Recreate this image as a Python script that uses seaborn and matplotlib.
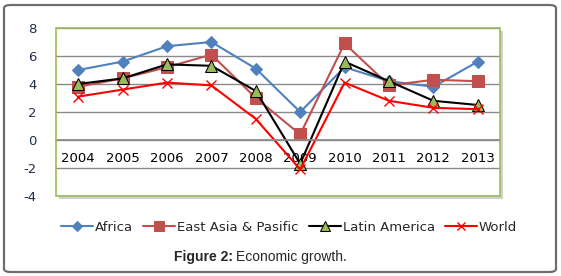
import matplotlib
matplotlib.use("Agg")
import matplotlib.pyplot as plt
import seaborn as sns
import pandas as pd
from matplotlib.patches import Rectangle, FancyBboxPatch

years = ["2004", "2005", "2006", "2007", "2008", "2009", "2010", "2011", "2012", "2013"]
africa = [5.0, 5.6, 6.7, 7.0, 5.1, 2.0, 5.2, 4.2, 3.8, 5.6]
east_asia = [3.8, 4.4, 5.2, 6.1, 3.0, 0.4, 6.9, 3.9, 4.3, 4.2]
latin_america = [4.0, 4.4, 5.4, 5.3, 3.5, -1.7, 5.6, 4.2, 2.8, 2.5]
world = [3.1, 3.6, 4.1, 3.9, 1.5, -2.1, 4.1, 2.8, 2.3, 2.2]
series_names = ["Africa", "East Asia & Pasific", "Latin America", "World"]

sns.set_theme(style="white")
plt.rcParams['font.family'] = ['DejaVu Sans']

fig = plt.figure(figsize=(5.61, 2.76), dpi=100)
ax = fig.add_axes([56/561, 1-196/276, 444/561, 168/276])

# outer rounded frame
fig.patches.append(FancyBboxPatch((4/561, 4/276), 552/561, 267/276,
                                  boxstyle="round,pad=0,rounding_size=0.012",
                                  transform=fig.transFigure, fill=False,
                                  edgecolor="#6e6e6e", linewidth=1.6))

xs = list(range(len(years)))
styles = [
    (africa, dict(color="#4F81BD", marker="D", markersize=6, markerfacecolor="#4F81BD", markeredgecolor="#4F81BD")),
    (east_asia, dict(color="#C0504D", marker="s", markersize=8, markerfacecolor="#C0504D", markeredgecolor="#C0504D")),
    (latin_america, dict(color="black", marker="^", markersize=8, markerfacecolor="#9BBB59", markeredgecolor="black")),
    (world, dict(color="#FF0000", marker="x", markersize=7, markeredgecolor="#FF0000", markeredgewidth=1.0)),
]
for name, (vals, st) in zip(series_names, styles):
    df = pd.DataFrame({"x": xs, "y": vals})
    sns.lineplot(data=df, x="x", y="y", ax=ax, label=name, linewidth=1.5, **st)

ax.set_xlim(-0.5, len(years) - 0.5)
ax.set_ylim(-4, 8)
ax.set_yticks([-4, -2, 0, 2, 4, 6, 8])
ax.set_yticklabels(["-4", "-2", "0", "2", "4", "6", "8"], color="#1F2F4F", fontsize=9.5)
ax.grid(axis="y", color="#8a8a8a", linewidth=1.0)
ax.set_axisbelow(True)
ax.set_xlabel("")
ax.set_ylabel("")
for s in ax.spines.values():
    s.set_visible(False)
ax.spines['bottom'].set_visible(True)
ax.spines['bottom'].set_position(('data', 0))
ax.spines['bottom'].set_color("#8a8a8a")
ax.set_xticks(xs)
ax.set_xticklabels(years, fontsize=9.5, color="black")
ax.tick_params(axis='x', length=0, pad=9)
ax.tick_params(axis='y', length=0, pad=14)

# shadow and plot-area border
ax.add_patch(Rectangle((0.006, -0.02), 1.0, 1.0, transform=ax.transAxes,
                       facecolor="#d0d0d0", edgecolor="none", zorder=-5, clip_on=False))
ax.add_patch(Rectangle((0, 0), 1, 1, transform=ax.transAxes, facecolor="white",
                       edgecolor="none", zorder=-4, clip_on=False))
ax.add_patch(Rectangle((0, 0), 1, 1, transform=ax.transAxes, fill=False,
                       edgecolor="#9BBB59", linewidth=1.2, zorder=5, clip_on=False))

leg = ax.legend(loc="center", bbox_to_anchor=(0.525, -0.185), ncol=4, frameon=False,
                fontsize=9.5, handlelength=2.4, columnspacing=0.8, handletextpad=0.15,
                borderaxespad=0, markerscale=0.85)

fig.text(233/561, 1 - 257/276, "Figure 2:", ha="right", va="center",
         fontsize=10, family="Liberation Sans", fontweight="bold")
fig.text(236/561, 1 - 257/276, "Economic growth.", ha="left", va="center",
         fontsize=10, family="Liberation Sans")

fig.savefig("out.png", dpi=100)
